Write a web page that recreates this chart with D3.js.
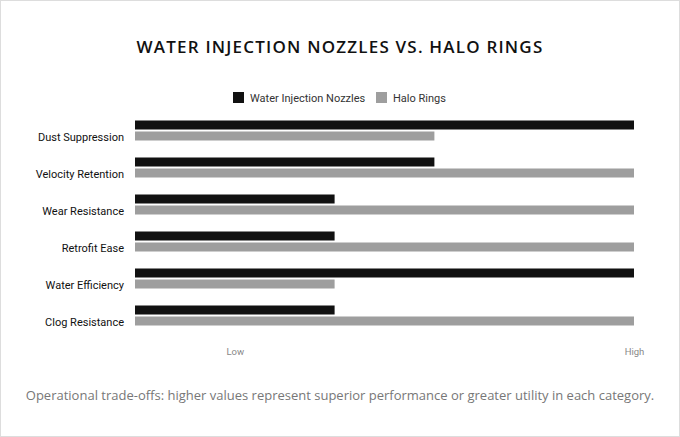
<!DOCTYPE html>
<html><head><meta charset="utf-8">
<script src="https://cdn.jsdelivr.net/npm/d3@7"></script>
<style>body{margin:0;background:#fff;font-family:"Open Sans",sans-serif;}</style>
</head><body><svg id="chart" width="680" height="437"></svg>
<script>
var categories = ["Dust Suppression","Velocity Retention","Wear Resistance","Retrofit Ease","Water Efficiency","Clog Resistance"];
var nozzles = [5,3,2,2,5,2];
var halo = [3,5,5,5,2,5];
var seriesNames = ["Water Injection Nozzles","Halo Rings"];
var colors = ["#111111","#9e9e9e"];
var tickVals = [1,5];
var tickLabels = ["Low","High"];

var svg = d3.select("#chart");
svg.append("rect").attr("x",0.5).attr("y",0.5).attr("width",679).attr("height",436)
  .attr("fill","#fff").attr("stroke","#ddd");

svg.append("text").attr("x",340).attr("y",53).attr("text-anchor","middle")
  .attr("font-size",17).attr("font-weight",600).attr("letter-spacing",1.2).attr("fill","#111")
  .text("WATER INJECTION NOZZLES VS. HALO RINGS");

// legend
var leg = svg.append("g").attr("font-family","Roboto, sans-serif").attr("font-size",11);
[[233,0],[376,1]].forEach(function(d){
  leg.append("rect").attr("x",d[0]).attr("y",92).attr("width",11).attr("height",11).attr("fill",colors[d[1]]);
  leg.append("text").attr("x",d[0]+17).attr("y",101.5).attr("fill","#333").text(seriesNames[d[1]]);
});

var x = d3.scaleLinear().domain([0,5]).range([135,634]);
var y = d3.scaleBand().domain(categories).range([112,334]).padding(0);
var bh = 9;

var g = svg.append("g");
g.selectAll(".a").data(categories).enter().append("rect")
  .attr("x",x(0)).attr("y",function(d){return y(d)+y.bandwidth()/2-bh-1;})
  .attr("width",function(d,i){return x(nozzles[i])-x(0);}).attr("height",bh).attr("fill",colors[0]);
g.selectAll(".b").data(categories).enter().append("rect")
  .attr("x",x(0)).attr("y",function(d){return y(d)+y.bandwidth()/2+1;})
  .attr("width",function(d,i){return x(halo[i])-x(0);}).attr("height",bh).attr("fill",colors[1]);

var ya = svg.append("g").attr("transform","translate(128,0)")
  .call(d3.axisLeft(y).tickSize(0).tickPadding(4));
ya.select(".domain").remove();
ya.selectAll("text").attr("font-family","Roboto, sans-serif").attr("font-size",11).attr("fill","#111")
  .attr("dy","0.95em");

var xa = svg.append("g").attr("transform","translate(0,342)")
  .call(d3.axisBottom(x).tickValues(tickVals).tickSize(0).tickPadding(6)
    .tickFormat(function(d,i){return tickLabels[i];}));
xa.select(".domain").remove();
xa.selectAll("text").attr("font-family","Roboto, sans-serif").attr("font-size",9.5).attr("fill","#888");

svg.append("text").attr("x",340).attr("y",400).attr("text-anchor","middle")
  .attr("font-size",13).attr("fill","#777")
  .text("Operational trade-offs: higher values represent superior performance or greater utility in each category.");
</script></body></html>
